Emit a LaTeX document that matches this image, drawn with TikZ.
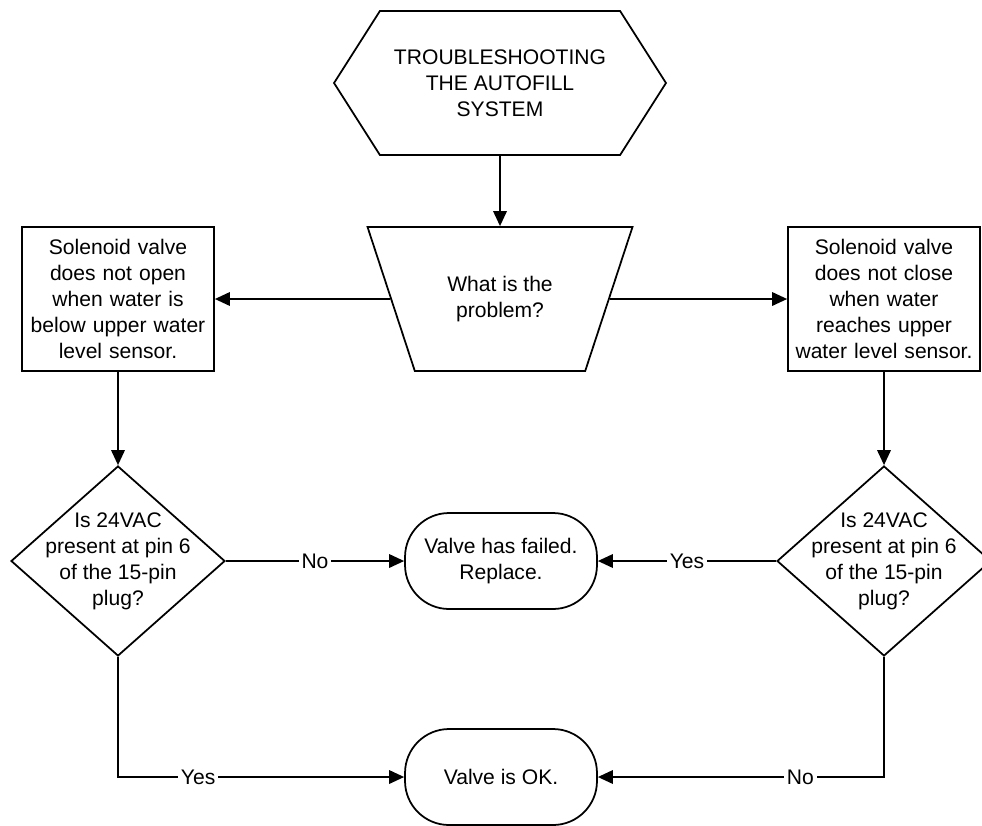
\documentclass[tikz,border=0pt]{standalone}
\usepackage{fontspec}
\setmainfont{Liberation Sans}
\usepackage{tikz}
\usetikzlibrary{shapes.geometric,shapes.symbols,arrows.meta}
\tikzset{
  every picture/.style = {
    line width=1pt,
    font=\fontsize{12}{14.8}\selectfont
  }
}
\tikzset{
  startbox/.style={
    draw,
    shape = signal,
    signal to = west and east,
    signal pointer angle = 115,
    minimum width = 6.64cm,
    minimum height = 2.88cm,
    inner sep = 0,
    align = center
  },
  problem/.style={
    draw,
    shape = trapezium,
    shape border rotate = 180,
    trapezium left angle = 44,
    trapezium right angle = 44,
    trapezium stretches body = true,
    minimum width = 5.3cm,
    minimum height = 2.88cm,
    inner sep = 0,
    align = center
  },
  sbox/.style={
    draw,
    shape = rectangle,
    minimum width = 3.84cm,
    minimum height = 2.88cm,
    text width = 3.7cm,
    inner sep = 0,
    align = center
  },
  decision/.style={
    draw,
    shape = diamond,
    minimum width = 4.28cm,
    minimum height = 3.8cm,
    inner sep = 0
  },
  qtext/.style={
    align = center,
    inner sep = 0
  },
  endbox/.style={
    draw,
    rounded corners = 0.88cm,
    minimum width = 3.84cm,
    minimum height = 1.92cm,
    inner sep = 0,
    align = center
  },
  arr/.style={
    -{Triangle[length=0.3cm,width=0.27cm]}
  },
  lbl/.style={
    fill = white,
    inner sep = 1.5pt
  }
}

\begin{document}
\begin{tikzpicture}[x=0.02cm,y=-0.02cm]
    \useasboundingbox (0,0) rectangle (982,825);
    % top of the chart
    \node[startbox] (start) at (500,83) {TROUBLESHOOTING\\THE AUTOFILL\\SYSTEM};
    \node[problem] (what) at (500,299) {What is the\\problem?};
    \node[sbox] (open) at (118,299) {Solenoid valve does not open when water is below upper water level sensor.};
    \node[sbox] (close) at (884,299) {Solenoid valve does not close when water reaches upper water level sensor.};
    % checks
    \node[decision, label={[qtext]center:{Is 24VAC\\present at pin 6\\of the 15-pin\\plug?}}] (chkl) at (118,561) {};
    \node[decision, label={[qtext]center:{Is 24VAC\\present at pin 6\\of the 15-pin\\plug?}}] (chkr) at (884,561) {};
    % results
    \node[endbox] (failed) at (501,561) {Valve has failed.\\Replace.};
    \node[endbox] (ok) at (501,777) {Valve is OK.};

    \draw[arr] (start) -- (what);
    \draw[arr] (what) -- (open);
    \draw[arr] (what) -- (close);
    \draw[arr] (open) -- (chkl);
    \draw[arr] (close) -- (chkr);
    \draw[arr] (chkl) -- node[lbl] {No} (failed);
    \draw[arr] (chkr) -- node[lbl] {Yes} (failed);
    \draw[arr] (chkl.south) |- node[lbl, pos=0.64] {Yes} (ok);
    \draw[arr] (chkr.south) |- node[lbl, pos=0.646] {No} (ok);
\end{tikzpicture}
\end{document}
